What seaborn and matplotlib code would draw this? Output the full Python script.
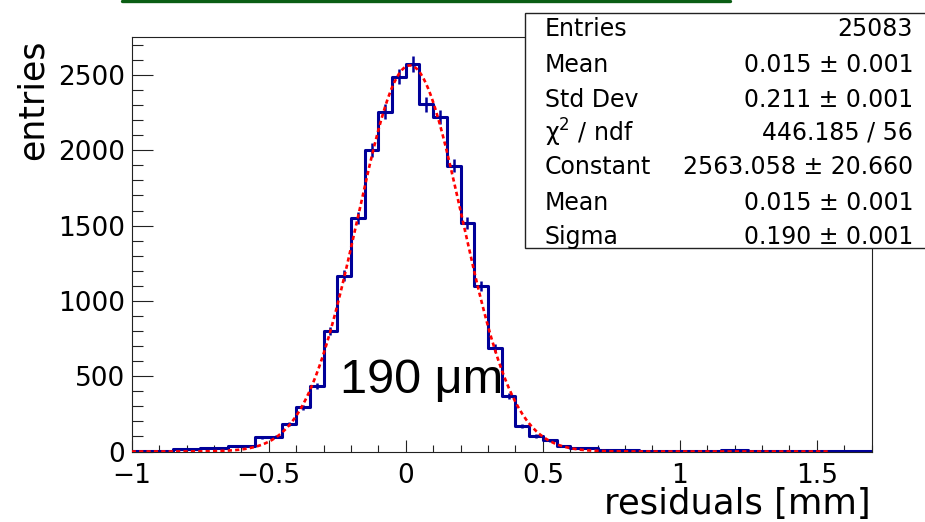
import numpy as np
import pandas as pd
import matplotlib
matplotlib.use("Agg")
import matplotlib.pyplot as plt
from matplotlib.patches import Rectangle
from matplotlib.lines import Line2D
import seaborn as sns

# ---------------- data ----------------
bin_edges = [round(-1.0 + 0.05 * i, 3) for i in range(55)]
counts = [4, 5, 5, 16, 16, 25, 25, 36, 36, 96,
          98, 183, 293, 435, 800, 1168, 1553, 2002, 2257, 2489,
          2573, 2305, 2223, 1896, 1519, 1101, 685, 368, 169, 103,
          74, 39, 23, 21, 10, 9, 7, 6, 6, 5,
          4, 3, 3, 7, 7, 2, 2, 2, 1, 1,
          1, 4, 4, 4]
fit_constant = 2563.058
fit_mean = 0.015
fit_sigma = 0.190
fit_range = [-1.0, 1.55]

stat_names = ["Entries", "Mean", "Std Dev", "\u03c7$^{2}$ / ndf", "Constant", "Mean", "Sigma"]
stat_values = ["25083", "0.015 \u00b1 0.001", "0.211 \u00b1 0.001", "446.185 / 56",
               "2563.058 \u00b1 20.660", "0.015 \u00b1 0.001", "0.190 \u00b1 0.001"]

x_ticks = [-1, -0.5, 0, 0.5, 1, 1.5]
x_ticklabels = ["\u22121", "\u22120.5", "0", "0.5", "1", "1.5"]
y_ticks = [0, 500, 1000, 1500, 2000, 2500]
y_ticklabels = ["0", "500", "1000", "1500", "2000", "2500"]

edges_arr = np.array(bin_edges)
centers = (edges_arr[:-1] + edges_arr[1:]) / 2
df = pd.DataFrame({"residual": centers, "entries": np.array(counts, dtype=float)})

# ---------------- style ----------------
sns.set_style("white")
plt.rcParams["font.family"] = ["DejaVu Sans"]
plt.rcParams["mathtext.fontset"] = "dejavusans"
plt.rcParams["text.color"] = "black"

W, H = 925, 522
fig = plt.figure(figsize=(W / 100, H / 100), dpi=100)
ax_l, ax_r, ax_t, ax_b = 131.7, 871.7, 36.7, 451.5
ax = fig.add_axes([ax_l / W, 1 - ax_b / H, (ax_r - ax_l) / W, (ax_b - ax_t) / H])

blue = "#000099"
sns.histplot(data=df, x="residual", weights="entries", bins=bin_edges,
             element="step", fill=False, color=blue, linewidth=2.2, ax=ax)
ax.errorbar(centers, counts, yerr=np.sqrt(counts), fmt="none",
            ecolor=blue, elinewidth=1.8, capsize=0)

xf = np.linspace(fit_range[0], fit_range[1], 600)
yf = fit_constant * np.exp(-0.5 * ((xf - fit_mean) / fit_sigma) ** 2)
ax.plot(xf, yf, color="#ff0000", linewidth=1.9, linestyle=(0, (1.6, 1.2)), zorder=5)

ax.set_xlim(-1, 1.7)
ax.set_ylim(0, 2754)
ax.set_xlabel("")
ax.set_ylabel("")
ax.set_xticks(x_ticks)
ax.set_xticklabels(x_ticklabels)
ax.set_yticks(y_ticks)
ax.set_yticklabels(y_ticklabels)
ax.set_xticks(np.round(np.arange(-1, 1.71, 0.1), 2), minor=True)
ax.set_yticks(np.arange(0, 2751, 100), minor=True)
ax.tick_params(axis="both", which="both", direction="in", colors="#222222",
               labelcolor="black", labelsize=19, width=0.8,
               bottom=True, left=True, top=False, right=False)
ax.tick_params(axis="y", which="major", length=15, pad=4.8)
ax.tick_params(axis="y", which="minor", length=8)
ax.tick_params(axis="x", which="major", length=9, pad=8)
ax.tick_params(axis="x", which="minor", length=4.7)
for s in ax.spines.values():
    s.set_color("#222222")
    s.set_linewidth(0.8)

# axis titles (ROOT style, aligned to the ends)
fig.text(33 / W, 1 - 39 / H, "entries", rotation=90, ha="center", va="top", fontsize=25)
fig.text(871 / W, 1 - 514 / H, "residuals [mm]", ha="right", va="baseline", fontsize=25.5)

# annotation
fig.text(340 / W, 1 - 392.7 / H, "190 \u03bcm", ha="left", va="baseline",
         fontsize=35, family=["Liberation Sans", "DejaVu Sans"], zorder=10)

# stats box
box = Rectangle((525 / W, 1 - 248 / H), 430 / W, (248 - 12.7) / H, transform=fig.transFigure,
                facecolor="white", edgecolor="#222222", linewidth=1.0, zorder=20)
fig.add_artist(box)
row_y = [29, 65, 100, 133, 167, 203, 237]
for name, val, yy in zip(stat_names, stat_values, row_y):
    fig.text(545 / W, 1 - yy / H, name, ha="left", va="center", fontsize=17, zorder=21)
    fig.text(913 / W, 1 - yy / H, val, ha="right", va="center", fontsize=17, zorder=21)

# green decorative line at top
fig.add_artist(Line2D([122 / W, 730 / W], [1 - 1.2 / H, 1 - 1.2 / H], color="#0b5e14",
                      linewidth=2.4, zorder=30))

fig.savefig("out.png", dpi=100)
